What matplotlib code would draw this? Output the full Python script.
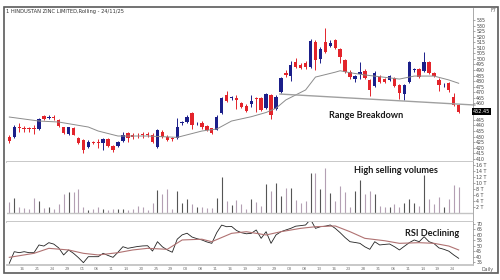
import matplotlib
matplotlib.use("Agg")
import matplotlib.pyplot as plt
from matplotlib.patches import Rectangle

# daily candles, HINDUSTAN ZINC
opens = [430, 430, 438.5, 437, 437.2, 438, 437, 448.5, 446.8, 447.5,
         444.6, 438.3, 432, 437.4, 429, 426.9, 420.9, 425, 424.6, 423.9,
         427.5, 421.5, 421.5, 426.3, 433, 431.5, 431.3, 431.8, 432, 431.4,
         421, 434.4, 429.9, 428.3, 428.4, 442, 443.4, 451, 441.8, 442.5,
         439.5, 437.4, 436, 451, 467.4, 464.5, 465, 460.5, 457.8, 459,
         464.5, 464.5, 455.5, 467.4, 454.5, 470.4, 487.6, 484.6, 497.5, 494.5,
         496, 493, 515.5, 499.6, 515.5, 511.6, 517, 508.6, 499, 488.4,
         481.6, 486.4, 489.3, 481, 475.5, 484, 481.8, 481, 482.5, 476.4,
         468.3, 479.4, 490.2, 490.6, 489.3, 497.5, 487.6, 481, 476, 478.5,
         465.9, 458.4]
highs = [431.5, 440.4, 442, 439.5, 439, 440.5, 446.5, 449.5, 449, 449,
         446, 439, 439, 438.5, 430, 428, 426.5, 426, 427.5, 428.5,
         428.5, 422.5, 426, 434, 434, 433, 433.5, 434, 434, 433,
         437, 435.5, 431, 430, 447, 444, 449, 452.5, 443.5, 444,
         440.5, 438, 449, 466, 471, 466.5, 467.5, 461.5, 459, 467,
         466, 466, 469.5, 468.5, 467, 483.5, 490, 498, 501, 496,
         498, 517.6, 517, 511, 527.5, 517, 518, 509.5, 500, 490,
         485.5, 497, 490.5, 482, 489, 485.5, 483, 485.5, 484, 477.5,
         477, 498.5, 492, 492, 506.5, 498.5, 488.5, 482.5, 478, 479.5,
         469, 459]
lows = [424.5, 428.7, 434, 434.5, 434, 432, 435.5, 444.5, 445.5, 445,
        439, 432, 431.5, 431, 423.5, 415, 419.5, 423.5, 419.5, 418,
        421, 416, 420.5, 425.5, 425.5, 428, 428.5, 429, 429.5, 424.5,
        420, 429, 426, 426, 427.5, 440.5, 442.5, 437, 440, 437,
        435, 432.5, 435.5, 450.5, 461.5, 463, 455, 455.5, 452.5, 457,
        452, 453, 454.5, 445.5, 453.5, 469, 483.5, 480, 492, 490.5,
        491, 492, 490, 496, 505, 510.5, 508.5, 496.5, 487.5, 482,
        479.5, 482, 481.5, 466.5, 474.5, 478.5, 478, 480, 474.5, 463.5,
        463, 478.5, 488.5, 483, 488.5, 486.5, 483.5, 471, 474.5, 470.5,
        457.5, 451.5]
closes = [426.3, 438.3, 438, 436.6, 436.8, 436.5, 445.5, 445.5, 447.8, 447,
          439.8, 432.9, 438.3, 431.4, 424.5, 417.9, 425.4, 424, 424.2, 427.5,
          421.8, 417.9, 425.4, 431.4, 428.4, 429.5, 431, 431.5, 431.6, 425.4,
          436, 429.9, 426.9, 427.8, 438.9, 442.8, 447.9, 440.4, 442.6, 438.3,
          436, 433.5, 447.9, 465, 462.3, 465.5, 463, 456.4, 453.3, 462,
          464, 453.9, 468.3, 449.4, 465.9, 482.5, 485.5, 494.5, 493, 492,
          492.5, 516, 499, 508.6, 506.5, 514.6, 509.5, 502, 488.4, 483.4,
          484.5, 488.4, 482.5, 472, 487.6, 479.4, 478.9, 484.5, 475.5, 469.5,
          476.4, 497.5, 490.8, 484, 497.5, 487.6, 484.6, 476.4, 476.8, 472,
          458.4, 452.45]
volumes = [3.7, 5.0, 2.2, 1.7, 1.3, 5.0, 4.2, 1.9, 2.2, 1.3,
           3.0, 6.4, 7.0, 7.0, 8.1, 2.2, 1.1, 1.3, 2.2, 1.4,
           1.1, 1.3, 1.3, 1.4, 1.1, 1.4, 2.4, 2.2, 1.1, 3.3,
           7.8, 6.3, 8.1, 1.3, 7.5, 3.5, 4.7, 3.0, 2.2, 2.2,
           1.7, 1.7, 5.0, 12.0, 4.2, 2.8, 4.4, 3.1, 1.4, 4.7,
           3.7, 2.4, 9.8, 7.4, 10.2, 5.8, 8.3, 8.4, 4.4, 3.3,
           4.2, 13.3, 13.3, 8.0, 15.0, 6.7, 4.1, 9.1, 7.0, 2.2,
           7.5, 11.1, 6.3, 7.4, 6.3, 2.4, 2.2, 2.2, 3.0, 2.2,
           3.3, 4.8, 3.5, 2.5, 12.8, 4.7, 3.0, 5.5, 2.2, 4.8,
           9.4, 8.7]
rsi = [33.8, 44.5, 43.6, 44.5, 43.6, 43.6, 50.7, 49.7, 52.8, 51.5,
       48, 41.5, 46.1, 43, 39, 34.4, 39.9, 39.9, 39.9, 43,
       41, 39.3, 44, 49.1, 47.6, 48.5, 49.3, 49.8, 50, 45.1,
       53.7, 49, 46.1, 44, 56, 60, 61.5, 58, 56.5, 55.3,
       53.5, 52.2, 62, 69, 67.5, 67.8, 64, 62, 61, 61.4,
       64.5, 56.8, 62.9, 52.2, 59.9, 62.9, 64.5, 66, 68, 68.5,
       69.1, 74.3, 66, 67.5, 68, 69.1, 66, 62, 57.5, 53.7,
       53, 52.2, 49, 46.7, 53.7, 50.7, 51.2, 51.6, 49.1, 46.1,
       49.5, 52.8, 55.3, 53.7, 58.3, 53.7, 52, 48, 46.7, 45,
       41.5, 38.4]
rsi_sig_idx = [0, 5, 8, 12, 15, 18, 22, 25, 28, 32, 35, 39, 41, 45, 48,
               52, 55, 59, 62, 66, 69, 72, 76, 79, 83, 86, 89, 91]
rsi_sig = [39.3, 43, 47.6, 46.1, 43, 41.5, 43.6, 46.1, 47.6, 46.7, 55.3, 56, 53.7, 61.4, 62.9,
           59.9, 62.9, 66, 67.5, 68.2, 62.9, 56.8, 54.6, 52.2, 52.8, 52.2, 49.7, 46.1]
ma_idx = [0, 6, 10, 16, 18, 22, 28, 34, 39, 42, 45, 49, 52, 54, 56,
          60, 62, 66, 67, 69, 72, 76, 79, 82, 86, 89, 91]
ma_val = [447.6, 444.0, 443.1, 438.6, 435, 430.5, 430.5, 429.3, 435, 436.8, 444, 447.9, 451.7, 455.5, 463,
          472, 483.6, 488, 489.3, 487.5, 485.5, 483.4, 481.8, 484.5, 484.5, 481, 478]
support_idx = [54.8, 94.3]
support_val = [468.3, 458.4]

date_idx = list(range(4, 92, 3))
date_lbl = ["16", "21", "24", "29", "01", "06", "11", "14", "20", "25",
            "29", "03", "08", "11", "16", "19", "24", "29", "03", "08",
            "13", "16", "23", "28", "31", "06", "11", "14", "19", "24"]
price_ticks = [t for t in range(410, 540, 5) if t not in (450, 455)]
vol_ticks = [2, 4, 6, 8, 10, 12, 14, 16]
rsi_ticks = [35, 40, 45, 50, 55, 60, 65, 70]

BLUE = "#1b1f8a"
RED = "#e3242b"
SEP = "#c4c4c4"
n = len(closes)
xlo, xhi = -0.47, 93.9

fig = plt.figure(figsize=(5, 2.8), dpi=100)
L, W = 7 / 500, 466 / 500
ax = fig.add_axes([L, 1 - 162 / 280, W, 154 / 280])
axv = fig.add_axes([L, 1 - 221.5 / 280, W, 59.5 / 280])
axr = fig.add_axes([L, 1 - 265 / 280, W, 43.5 / 280])

for a in (ax, axv, axr):
    a.set_xlim(xlo, xhi)
    for s in ("top", "left"):
        a.spines[s].set_visible(False)
    a.spines["bottom"].set_color(SEP)
    a.spines["bottom"].set_linewidth(1.3)
    a.spines["right"].set_color("#888888")
    a.spines["right"].set_linewidth(0.5)
    a.yaxis.tick_right()
    a.tick_params(axis="y", direction="out", length=1.5, width=0.4, color="#666666",
                  labelsize=3.4, labelcolor="#444444", pad=0.8)
    a.tick_params(axis="x", length=0)
    a.set_xticks([])

# price panel
for i in range(n):
    o, h, l, c = opens[i], highs[i], lows[i], closes[i]
    col = BLUE if c > o else RED
    ax.vlines(i, l, h, color=col, lw=0.7)
    ax.bar(i, max(abs(c - o), 0.7), bottom=min(o, c), width=0.68, color=col, lw=0)
ax.plot(ma_idx, ma_val, color="#8c8c8c", lw=0.7)
ax.plot(support_idx, support_val, color="#a0a0a0", lw=1.0, clip_on=False)
ax.set_ylim(407.1, 545.8)
ax.set_yticks(price_ticks)
ax.set_yticklabels([str(t) for t in price_ticks])
ax.text(72.2, 449.4, "Range Breakdown", fontfamily="Lato", fontweight="bold",
        fontsize=6.6, color="#1a1a1a", ha="center", va="center")
ax.text(1.0, closes[-1], f"{closes[-1]:.2f}", transform=ax.get_yaxis_transform(),
        fontsize=3.6, color="white", ha="left", va="center",
        bbox=dict(boxstyle="square,pad=0.15", fc="black", ec="black", lw=0))

# volume panel
vcol = ["#555555" if closes[i] > opens[i] else "#b39fb3" for i in range(n)]
axv.vlines(range(n), 0, volumes, colors=vcol, lw=0.8)
axv.axhline(0, color=SEP, lw=1.0)
axv.set_ylim(-2.73, 17.1)
axv.set_yticks(vol_ticks)
axv.set_yticklabels([f"{t} T" for t in vol_ticks])
axv.text(78.3, 14.4, "High selling volumes", fontfamily="Lato", fontweight="bold",
         fontsize=6.6, color="#1a1a1a", ha="center", va="center")

# rsi panel
axr.plot(range(n), rsi, color="#222222", lw=0.6)
axr.plot(rsi_sig_idx, rsi_sig, color="#b07272", lw=0.8)
axr.set_ylim(32.25, 72.3)
axr.set_yticks(rsi_ticks)
axr.set_yticklabels([str(t) for t in rsi_ticks])
axr.set_xticks([i - 1.3 for i in date_idx])
axr.set_xticklabels(date_lbl)
axr.tick_params(axis="x", labelsize=3.0, labelcolor="#777777", pad=1.2)
axr.text(85.6, 60.8, "RSI Declining", fontfamily="Lato", fontweight="bold",
         fontsize=6.6, color="#1a1a1a", ha="center", va="center")

# frame and header texts
fig.patches.append(Rectangle((4 / 500, 7 / 280), 494 / 500, 266 / 280,
                             transform=fig.transFigure, fill=False, ec="#5a5a5a", lw=1.2))
fig.text(6 / 500, 1 - 11 / 280, "1 HINDUSTAN ZINC LIMITED,Rolling - 24/11/25",
         fontsize=3.7, color="#333333", ha="left", va="center")
fig.text(496 / 500, 1 - 11 / 280, "F7", fontsize=3.4, color="#555555", ha="right", va="center")
fig.text(493 / 500, 1 - 269 / 280, "Daily", fontsize=3.4, color="#555555", ha="right", va="center")

fig.savefig("out.png", dpi=100)
